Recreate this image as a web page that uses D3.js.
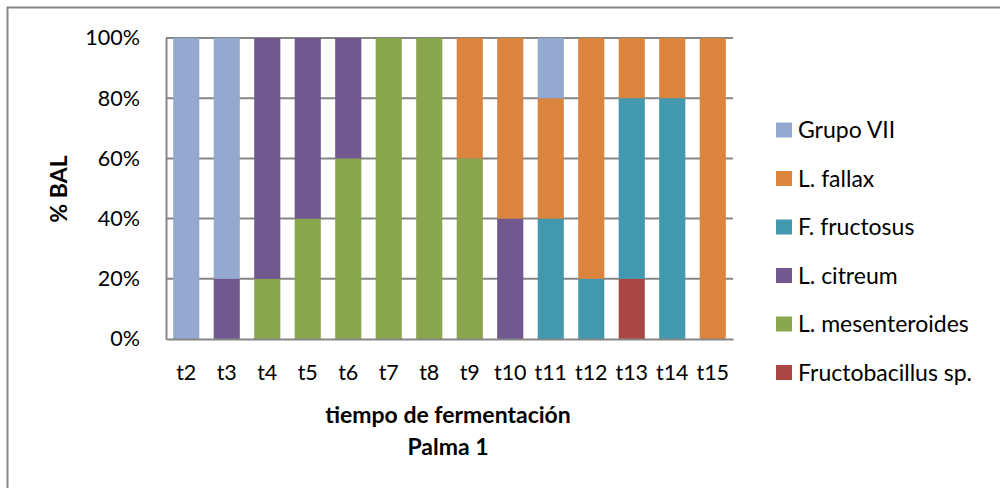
<!DOCTYPE html>
<html>
<head>
<meta charset="utf-8">
<script src="https://cdn.jsdelivr.net/npm/d3@7"></script>
<style>
  html, body { margin: 0; padding: 0; background: #fff; }
  svg { display: block; font-family: Lato, "Open Sans", sans-serif; }
</style>
</head>
<body>
<svg id="chart" width="1000" height="488"></svg>
<script>
// Sampling times
const times = ["t2","t3","t4","t5","t6","t7","t8","t9","t10","t11","t12","t13","t14","t15"];

// Percentage of isolates per group at each time (stack order, bottom to top)
const fructobacillus = [0,   0,  0,  0,  0,   0,   0,  0,  0,  0,  0, 20,  0,   0];
const mesenteroides  = [0,   0, 20, 40, 60, 100, 100, 60,  0,  0,  0,  0,  0,   0];
const citreum        = [0,  20, 80, 60, 40,   0,   0,  0, 40,  0,  0,  0,  0,   0];
const fructosus      = [0,   0,  0,  0,  0,   0,   0,  0,  0, 40, 20, 60, 80,   0];
const fallax         = [0,   0,  0,  0,  0,   0,   0, 40, 60, 40, 80, 20, 20, 100];
const grupoVII       = [100,80,  0,  0,  0,   0,   0,  0,  0, 20,  0,  0,  0,   0];

const yTicks = [0, 20, 40, 60, 80, 100];

const series = [
  { name: "Fructobacillus sp.", values: fructobacillus, color: "#AA4643" },
  { name: "L. mesenteroides",   values: mesenteroides,  color: "#89A54E" },
  { name: "L. citreum",         values: citreum,        color: "#71588F" },
  { name: "F. fructosus",       values: fructosus,      color: "#4198AF" },
  { name: "L. fallax",          values: fallax,         color: "#DB843D" },
  { name: "Grupo VII",          values: grupoVII,       color: "#93A9CF" }
];

const svg = d3.select("#chart");

// Outer chart frame
svg.append("rect")
  .attr("x", 7.5).attr("y", 7.5)
  .attr("width", 1010).attr("height", 500)
  .attr("fill", "none").attr("stroke", "#868686").attr("stroke-width", 2);

const plot = { left: 166, right: 733, top: 38, bottom: 339 };

const x = d3.scaleBand()
  .domain(times)
  .range([plot.left, plot.right])
  .paddingInner(0.355)
  .paddingOuter(0.1775);

const y = d3.scaleLinear()
  .domain([0, 100])
  .range([plot.bottom, plot.top]);

// Gridlines
svg.append("g")
  .selectAll("line")
  .data(yTicks.filter(d => d > 0))
  .join("line")
  .attr("x1", plot.left).attr("x2", plot.right)
  .attr("y1", d => y(d)).attr("y2", d => y(d))
  .attr("stroke", "#868686").attr("stroke-width", 2);

// Stacked bars
const table = times.map((t, i) => {
  const row = { time: t };
  series.forEach(s => { row[s.name] = s.values[i]; });
  return row;
});
const stack = d3.stack().keys(series.map(s => s.name));
const layers = stack(table);

svg.append("g")
  .selectAll("g")
  .data(layers)
  .join("g")
  .attr("fill", (d, i) => series[i].color)
  .selectAll("rect")
  .data(d => d.filter(p => p[1] - p[0] > 0))
  .join("rect")
  .attr("x", d => x(d.data.time))
  .attr("width", x.bandwidth())
  .attr("y", d => y(d[1]))
  .attr("height", d => y(d[0]) - y(d[1]));

// Y axis
const yAxis = svg.append("g")
  .attr("transform", `translate(${plot.left},0)`)
  .call(d3.axisLeft(y).tickValues(yTicks).tickSize(0).tickPadding(26).tickFormat(d => d + "%"));
yAxis.select(".domain").attr("stroke", "#868686").attr("stroke-width", 2);
yAxis.selectAll("text").attr("font-size", 21.5).attr("fill", "#000")
  .attr("font-family", "Lato, 'Open Sans', sans-serif");

// X axis
const xAxis = svg.append("g")
  .attr("transform", `translate(0,${plot.bottom})`)
  .call(d3.axisBottom(x).tickSize(0).tickPadding(26));
xAxis.select(".domain").attr("stroke", "#868686").attr("stroke-width", 2);
xAxis.selectAll("text").attr("font-size", 21.5).attr("fill", "#000")
  .attr("font-family", "Lato, 'Open Sans', sans-serif");

// Axis titles
svg.append("text")
  .attr("transform", "translate(67,189) rotate(-90)")
  .attr("text-anchor", "middle")
  .attr("font-size", 23).attr("font-weight", "bold")
  .text("% BAL");

svg.append("text")
  .attr("x", 448).attr("y", 423)
  .attr("text-anchor", "middle")
  .attr("font-size", 23).attr("font-weight", "bold")
  .text("tiempo de fermentación");

svg.append("text")
  .attr("x", 448).attr("y", 455)
  .attr("text-anchor", "middle")
  .attr("font-size", 23).attr("font-weight", "bold")
  .text("Palma 1");

// Legend (top to bottom, reverse of stack order)
const legendItems = series.slice().reverse();
const legend = svg.append("g")
  .selectAll("g")
  .data(legendItems)
  .join("g")
  .attr("transform", (d, i) => `translate(776,${130 + i * 48.5})`);

legend.append("rect")
  .attr("x", 0).attr("y", -7.5)
  .attr("width", 16).attr("height", 15)
  .attr("fill", d => d.color);

legend.append("text")
  .attr("x", 22).attr("y", 0)
  .attr("dy", "0.35em")
  .attr("font-size", 23)
  .text(d => d.name);
</script>
</body>
</html>
